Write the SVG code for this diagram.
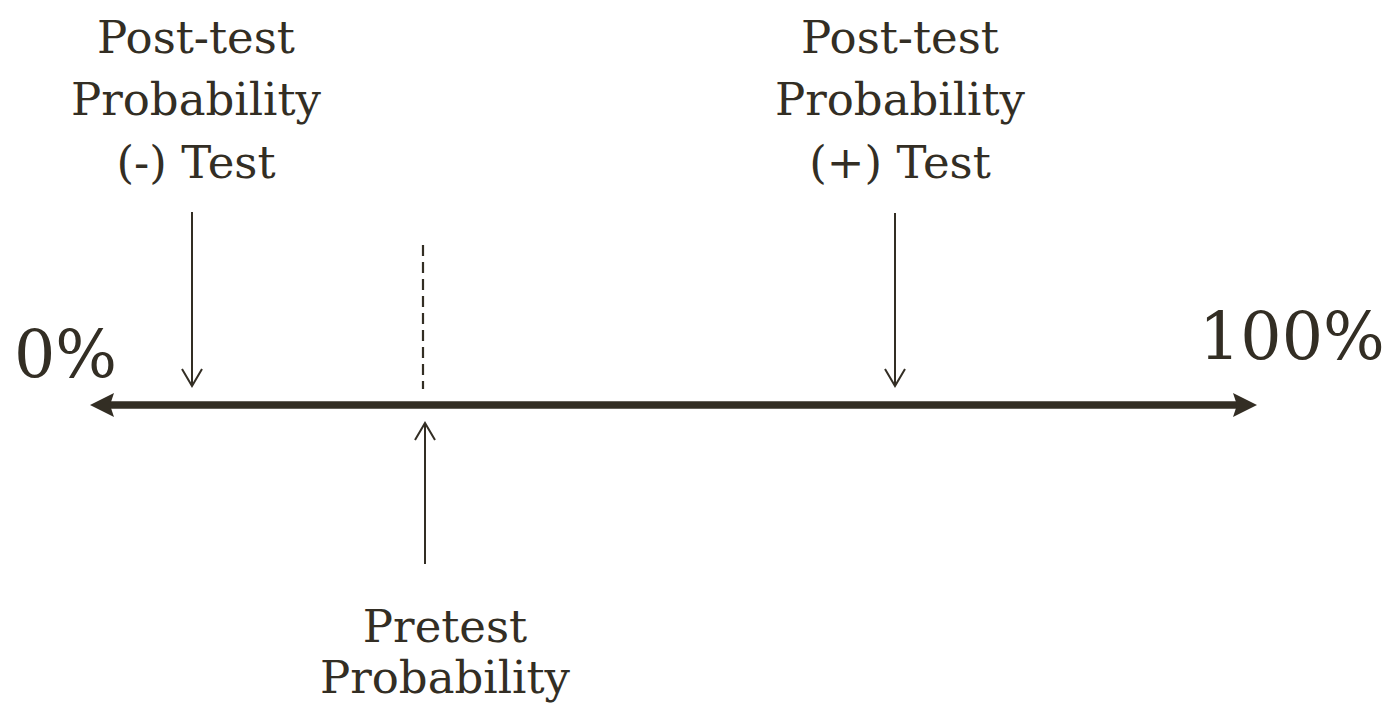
<svg xmlns="http://www.w3.org/2000/svg" width="1388" height="715" viewBox="0 0 1388 715">
<style>
.lbl{font-family:"DejaVu Serif","Liberation Serif",serif;font-size:45px;fill:#332e24;text-anchor:middle}
.big{font-family:"DejaVu Serif","Liberation Serif",serif;font-size:65px;fill:#332e24}
.thin{stroke:#332e24;stroke-width:2;fill:none}
</style>
<defs>
<marker id="v" markerUnits="userSpaceOnUse" viewBox="-20 -12 22 24" markerWidth="22" markerHeight="24" refX="0" refY="0" orient="auto">
<path d="M-17,-10 L0,0 L-17,10" fill="none" stroke="#332e24" stroke-width="2"/>
</marker>
<marker id="solid" markerUnits="userSpaceOnUse" viewBox="0 -13 25 26" markerWidth="25" markerHeight="26" refX="4" refY="0" orient="auto-start-reverse">
<path d="M0,-12 L24,0 L0,12 L4,0 Z" fill="#332e24"/>
</marker>
</defs>
<rect width="1388" height="715" fill="#ffffff"/>
<g id="connectors">
<line x1="110" y1="405" x2="1237" y2="405" stroke="#332e24" stroke-width="7.5" marker-start="url(#solid)" marker-end="url(#solid)"/>
<line class="thin" x1="192" y1="212" x2="192" y2="386" marker-end="url(#v)"/>
<line class="thin" x1="895" y1="213" x2="895" y2="386" marker-end="url(#v)"/>
<line class="thin" x1="425" y1="564" x2="425" y2="423" marker-end="url(#v)"/>
<line x1="423" y1="245" x2="423" y2="389" stroke="#332e24" stroke-width="2.2" stroke-dasharray="11,6"/>
</g>
<g id="label-zero"><text class="big" x="14" y="377">0%</text></g>
<g id="label-hundred"><text class="big" x="1199" y="359">100%</text></g>
<g id="node-post-neg">
<text class="lbl" x="196" y="53">Post-test</text>
<text class="lbl" x="196" y="115">Probability</text>
<text class="lbl" x="196" y="178">(-) Test</text>
</g>
<g id="node-post-pos">
<text class="lbl" x="900" y="53">Post-test</text>
<text class="lbl" x="900" y="115">Probability</text>
<text class="lbl" x="900" y="178">(+) Test</text>
</g>
<g id="node-pretest">
<text class="lbl" x="445" y="642">Pretest</text>
<text class="lbl" x="445" y="693">Probability</text>
</g>
</svg>
